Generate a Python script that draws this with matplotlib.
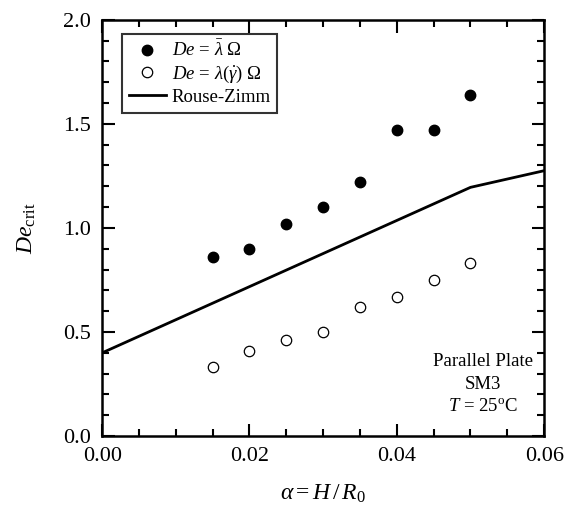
import numpy as np
import matplotlib
matplotlib.use("Agg")
import matplotlib.pyplot as plt
from matplotlib.ticker import MultipleLocator, FormatStrFormatter

matplotlib.rcParams['font.family'] = 'Liberation Serif'
matplotlib.rcParams['mathtext.fontset'] = 'custom'
matplotlib.rcParams['mathtext.rm'] = 'Liberation Serif'
matplotlib.rcParams['mathtext.it'] = 'Liberation Serif:italic'
matplotlib.rcParams['mathtext.bf'] = 'Liberation Serif:bold'

# data
alpha = [0.015, 0.020, 0.025, 0.030, 0.035, 0.040, 0.045, 0.050]
de_mean = [0.86, 0.90, 1.02, 1.10, 1.22, 1.47, 1.47, 1.64]
de_shear = [0.33, 0.41, 0.46, 0.50, 0.62, 0.67, 0.75, 0.83]
rz_alpha = [0.0, 0.05, 0.06]
rz_de = [0.40, 1.195, 1.275]

fig = plt.figure(figsize=(5.74, 5.21), dpi=100)
ax = fig.add_axes([0.178, 0.163, 0.770, 0.799])

ax.plot(alpha, de_mean, 'o', color='black', ms=7.5,
        label=r'$De$ = $\bar{\lambda}\ \mathit{\Omega}$')
ax.plot(alpha, de_shear, 'o', mfc='white', mec='black', mew=0.9, ms=7.5,
        label=r'$De$ = $\lambda(\dot{\gamma})\ \mathit{\Omega}$')
ax.plot(rz_alpha, rz_de, '-', color='black', lw=2, label='Rouse-Zimm')

ax.set_xlim(0, 0.06)
ax.set_ylim(0, 2.0)
ax.xaxis.set_major_locator(MultipleLocator(0.02))
ax.xaxis.set_minor_locator(MultipleLocator(0.005))
ax.yaxis.set_major_locator(MultipleLocator(0.5))
ax.yaxis.set_minor_locator(MultipleLocator(0.1))
ax.yaxis.set_major_formatter(FormatStrFormatter('%.1f'))
ax.xaxis.set_major_formatter(FormatStrFormatter('%.2f'))
ax.tick_params(which='both', direction='in', top=True, right=True, width=1.5, labelsize=16, pad=8)
ax.tick_params(which='major', length=9)
ax.tick_params(which='minor', length=5)
for s in ax.spines.values():
    s.set_linewidth(1.8)

ax.set_xlabel(r'$\alpha = H\,/\,R_0$', fontsize=17, labelpad=12)
ax.set_ylabel(r'$De_{\rm crit}$', fontsize=17, labelpad=18)

ax.text(0.0517, 0.25, 'Parallel Plate\nSM3\n$T$ = 25$^{\\rm o}$C', ha='center', va='center',
        fontsize=13.5, linespacing=1.45)

leg = ax.legend(loc='upper left', bbox_to_anchor=(0.045, 0.967), fontsize=13.5, frameon=True,
                fancybox=False, edgecolor='black', handlelength=2.0, handletextpad=0.3,
                borderpad=0.35, labelspacing=0.2, borderaxespad=0)
leg.get_frame().set_linewidth(1.5)

fig.savefig('out.png', dpi=100)
